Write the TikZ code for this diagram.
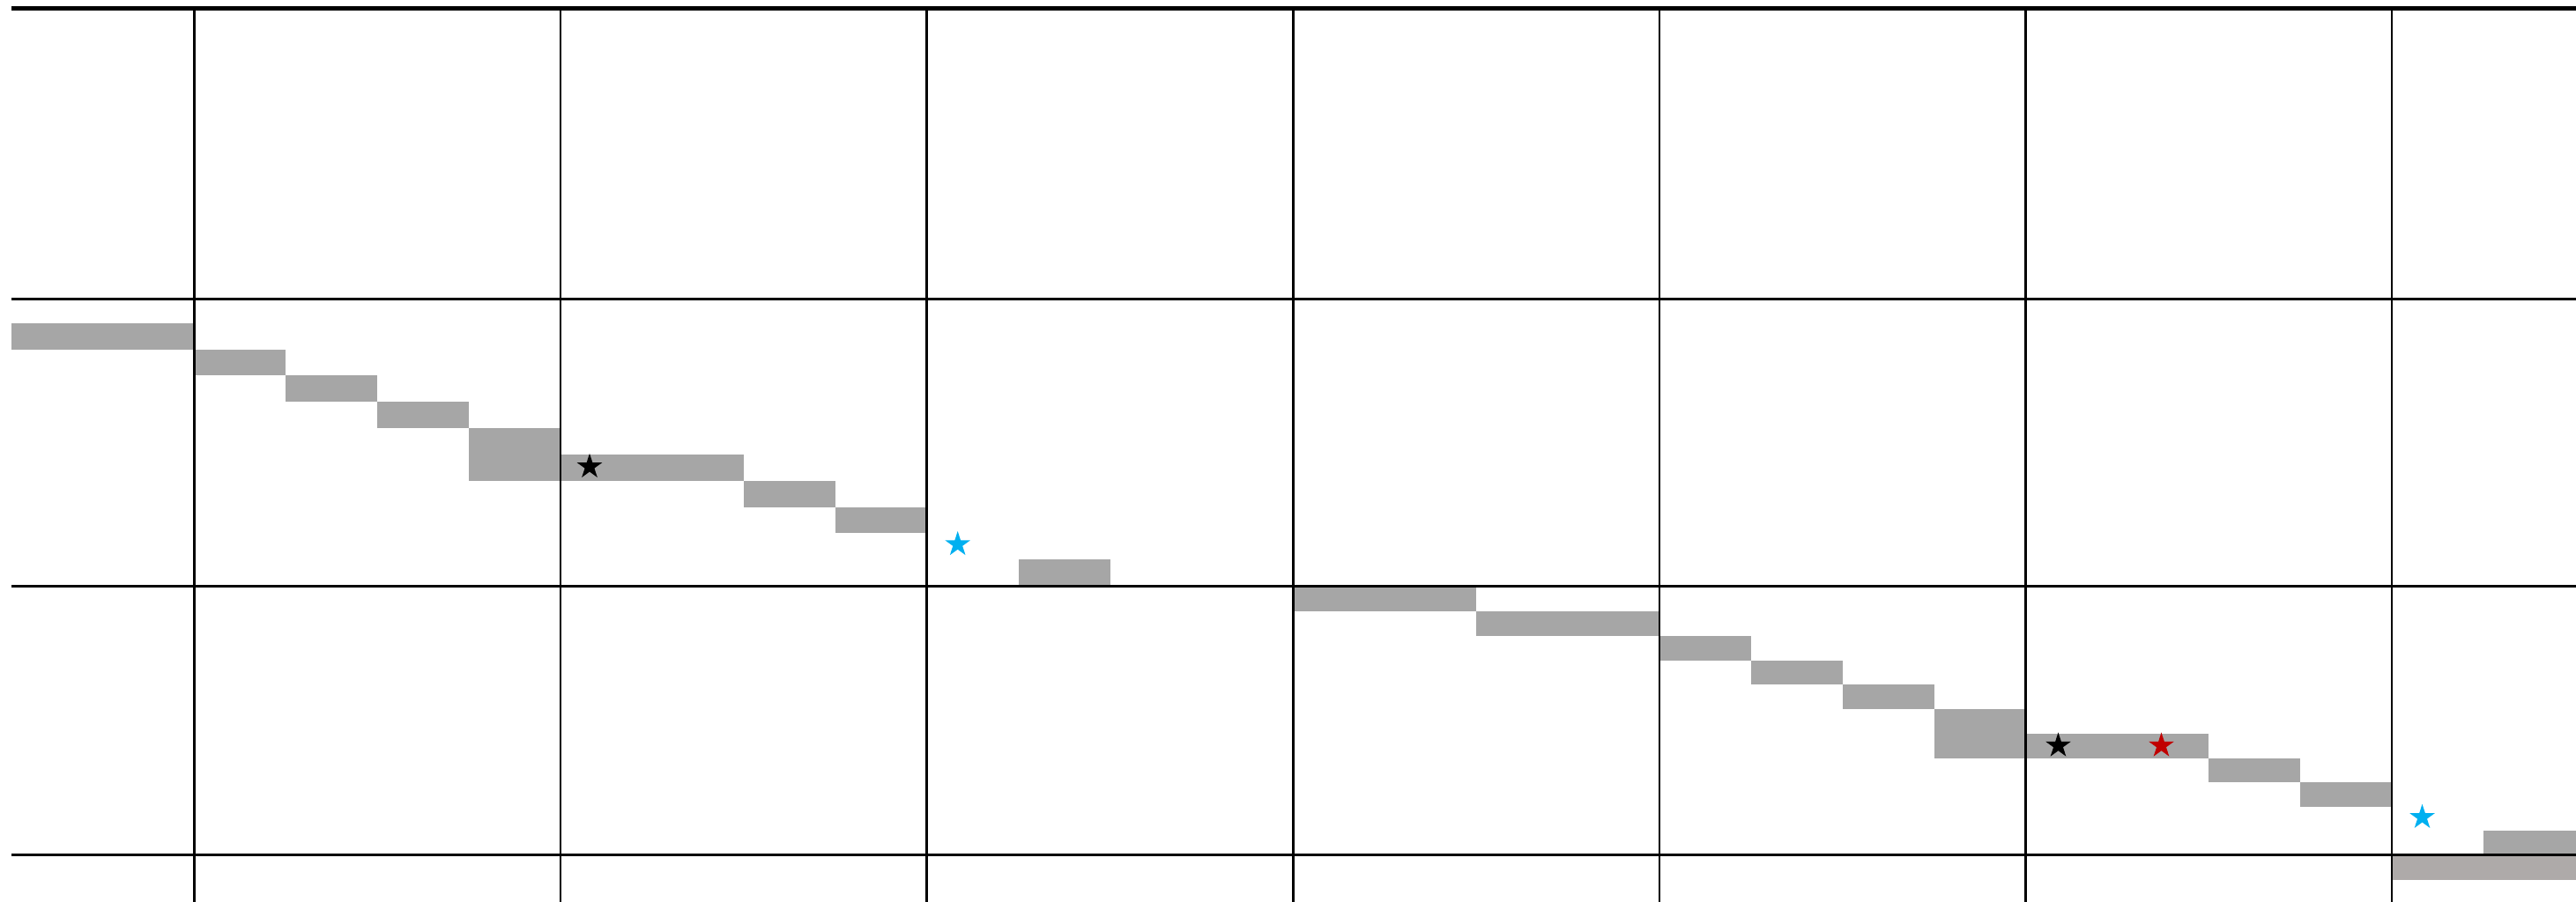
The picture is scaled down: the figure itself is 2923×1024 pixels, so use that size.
\documentclass[tikz,border=0pt]{standalone}
\usetikzlibrary{shapes.geometric}
\definecolor{bargrey}{HTML}{A6A6A6}
\definecolor{bargreyb}{HTML}{AEAAA9}
\definecolor{starred}{HTML}{C00000}
\definecolor{starblue}{HTML}{00B0F0}
\tikzset{
  bar/.style={fill=bargrey, draw=none},
  gridv/.style={line width=0.77pt, black},
  gridh/.style={line width=0.85pt, black},
  gridtop/.style={line width=1.3pt, black},
  mystar/.style={star, star points=5, star point ratio=2.618, minimum size=0.3cm, inner sep=0pt, draw=none},
}
\begin{document}
\begin{tikzpicture}[x=0.01cm, y=-0.01cm]
\useasboundingbox (0,0) rectangle (2923,1024);
% grey bars, first half
\fill[bar] (13.4,366.6) rectangle (220.5,396.5);
\fill[bar] (220.5,396.5) rectangle (324.4,426.3);
\fill[bar] (324.4,426.3) rectangle (428.3,456.2);
\fill[bar] (428.3,456.2) rectangle (532.2,486);
\fill[bar] (532.2,486) rectangle (636.1,545.7);
\fill[bar] (636.1,515.9) rectangle (843.9,545.7);
\fill[bar] (843.9,545.7) rectangle (947.8,575.6);
\fill[bar] (947.8,575.6) rectangle (1051.7,605.4);
\fill[bar] (1155.6,635.3) rectangle (1259.5,665);
% grey bars, second half
\fill[bar] (1467.3,665) rectangle (1675.1,693.5);
\fill[bar] (1675.1,693.5) rectangle (1882.9,721.5);
\fill[bar] (1882.9,721.5) rectangle (1986.8,749.5);
\fill[bar] (1986.8,749.5) rectangle (2090.7,777);
\fill[bar] (2090.7,777) rectangle (2194.6,804.5);
\fill[bar] (2194.6,804.5) rectangle (2298.5,860.5);
\fill[bar] (2298.5,832.5) rectangle (2506.3,860.5);
\fill[bar] (2506.3,860.5) rectangle (2610.2,888);
\fill[bar] (2610.2,888) rectangle (2714.1,915.5);
\fill[bar] (2818,942.5) rectangle (2923,970);
\fill[bargreyb] (2714.1,970) rectangle (2923,999);
% grid
\draw[gridtop] (13.4,9.3) -- (2923,9.3);
\foreach \yy in {339.3,665,970} \draw[gridh] (13.4,\yy) -- (2923,\yy);
\foreach \xx in {220.5,636.1,1051.7,1467.3,1882.9,2298.5,2714.1} \draw[gridv] (\xx,9.3) -- (\xx,1024);
% stars
\node[mystar, fill=black] (s1) at (669,529.8) {};
\node[mystar, fill=starblue] (s2) at (1086.7,618) {};
\node[mystar, fill=black] (s3) at (2335.5,846.5) {};
\node[mystar, fill=starred] (s4) at (2452.5,846.5) {};
\node[mystar, fill=starblue] (s5) at (2748.5,927.8) {};
\end{tikzpicture}
\end{document}
